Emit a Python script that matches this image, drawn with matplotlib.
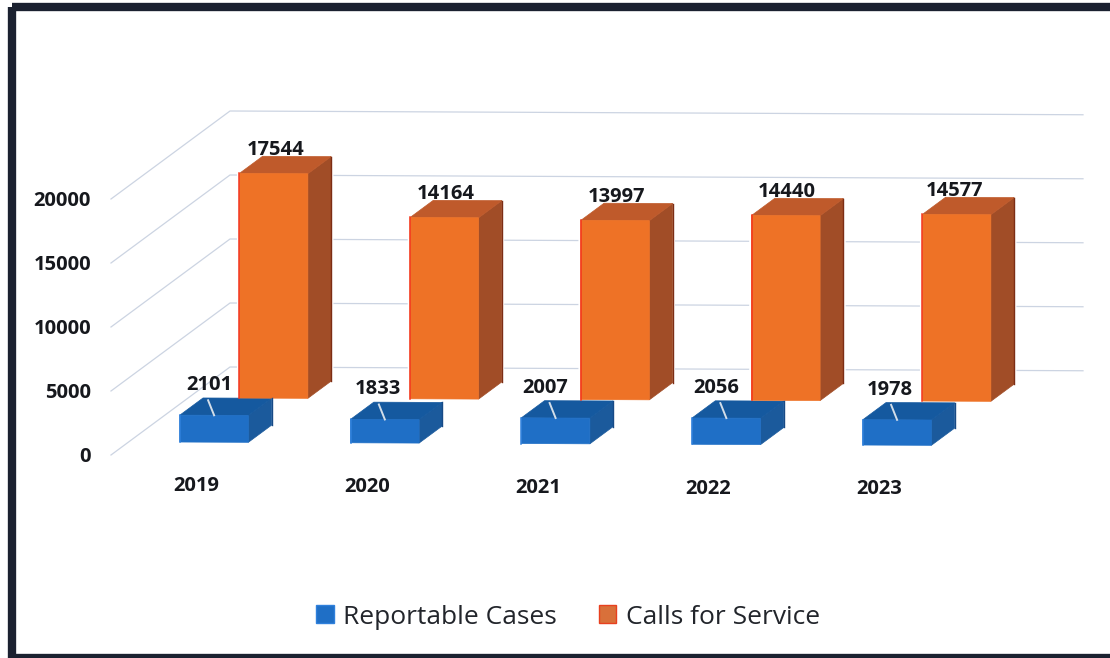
import matplotlib
matplotlib.use("Agg")
import matplotlib.pyplot as plt
from matplotlib.patches import Polygon, Rectangle, Patch

years = ["2019", "2020", "2021", "2022", "2023"]
reportable_cases = [2101, 1833, 2007, 2056, 1978]
calls_for_service = [17544, 14164, 13997, 14440, 14577]
y_ticks = [0, 5000, 10000, 15000, 20000]

# small hand nudges for the labels, the source chart placed them loosely
case_label_dx = [-5, -7, -10, -10, -7]
call_label_dx = [2, 1, 1, 1, -2]

BLUE = ("#1f6fc6", "#15599f", "#1b5a9c")
ORANGE = ("#ee7226", "#bf5a2b", "#a14d27")
GRID = "#ccd4e2"
TEXT = "#16181d"

# fake 3d floor, everything in pixels of the output image
X0, Y0 = 111, 455
BACK_DX, BACK_DY = 119, -88
PX_PER_UNIT = 64 / 5000
TILT = 0.0044
PITCH = 170.75
BAR_W = 68.5
BAR_OFFSET = 51
BAR_DEPTH = 0.195
CASE_DEPTH = 0.15
CALL_DEPTH = 0.65
WALL_W = 853


def project(s, depth, value):
    x = X0 + s + depth * BACK_DX
    y = Y0 + s * TILT + depth * BACK_DY - value * PX_PER_UNIT
    return x, y


def draw_bar(ax, i, value, depth, colors, left_edge, side_edge):
    s0 = BAR_OFFSET + i * PITCH
    s1 = s0 + BAR_W
    d0 = depth
    d1 = depth + BAR_DEPTH
    front = [project(s0, d0, 0), project(s1, d0, 0), project(s1, d0, value), project(s0, d0, value)]
    side = [project(s1, d0, 0), project(s1, d1, 0), project(s1, d1, value), project(s1, d0, value)]
    top = [project(s0, d0, value), project(s1, d0, value), project(s1, d1, value), project(s0, d1, value)]
    outline = [front[0], front[1], side[1], side[2], top[3], front[3]]
    # white halo so the gridlines stop short of the bar
    ax.add_patch(Polygon(outline, closed=True, fc="white", ec="white", lw=3.5, zorder=2))
    ax.add_patch(Polygon(side, closed=True, fc=colors[2], ec=colors[2], lw=0.5, zorder=3))
    ax.add_patch(Polygon(top, closed=True, fc=colors[1], ec=colors[1], lw=0.5, zorder=3))
    ax.add_patch(Polygon(front, closed=True, fc=colors[0], ec=colors[0], lw=0.5, zorder=4))
    # only the outer vertical edges are picked out
    ax.plot([front[0][0], front[3][0]], [front[0][1], front[3][1]], color=left_edge, lw=1.1, zorder=5)
    ax.plot([side[1][0], side[2][0]], [side[1][1], side[2][1]], color=side_edge, lw=1.0, zorder=5)


plt.rcParams["font.family"] = ["Open Sans", "DejaVu Sans"]
fig = plt.figure(figsize=(11.10, 6.58), dpi=100)
ax = fig.add_axes([0, 0, 1, 1])
ax.set_xlim(0, 1110)
ax.set_ylim(658, 0)
ax.axis("off")

# frame
ax.add_patch(Rectangle((11.5, 7), 1120, 651, fc="none", ec="#1b2130", lw=6, joinstyle="round", zorder=1))

# walls and gridlines
for tick in y_ticks:
    p0 = project(0, 0, tick)
    p1 = project(0, 1, tick)
    p2 = project(WALL_W, 1, tick)
    ax.plot([p0[0], p1[0], p2[0]], [p0[1], p1[1], p2[1]], color=GRID, lw=0.9, zorder=1)
    ax.text(91, p0[1] + 2, str(tick), ha="right", va="center", fontsize=14.5, fontweight="bold", color=TEXT)

for i in range(len(years)):
    draw_bar(ax, i, calls_for_service[i], CALL_DEPTH, ORANGE, "#f4341c", "#7c2d14")
for i in range(len(years)):
    draw_bar(ax, i, reportable_cases[i], CASE_DEPTH, BLUE, "#2f80dc", "#174a86")

for i in range(len(years)):
    s = BAR_OFFSET + i * PITCH
    mid = s + BAR_W / 2

    # blue bars: label, with its leader line down to the top face
    v = reportable_cases[i]
    lx, ly = project(mid, CASE_DEPTH, v)
    ax.plot([lx - 6, lx], [ly - 15, ly], color="#d3dee9", lw=1.4, zorder=5)
    ax.text(lx + case_label_dx[i], ly - 30, str(v), ha="center", va="center",
            fontsize=14.5, fontweight="bold", color=TEXT, zorder=6)

    # orange bars
    v = calls_for_service[i]
    lx, ly = project(mid, CALL_DEPTH, v)
    ax.text(lx + call_label_dx[i], ly - 23.5, str(v), ha="center", va="center",
            fontsize=14.5, fontweight="bold", color=TEXT, zorder=6)

    # category label
    lx, ly = project(mid, 0, 0)
    ax.text(lx, ly + 31, years[i], ha="center", va="center",
            fontsize=14.5, fontweight="bold", color=TEXT)

handles = [Patch(fc=BLUE[0], ec="#2f80dc", label="Reportable Cases"),
           Patch(fc="#d9703a", ec="#e8401f", label="Calls for Service")]
ax.legend(handles=handles, loc="center", bbox_to_anchor=(568, 617), bbox_transform=ax.transData,
          ncol=2, frameon=False, fontsize=19, handlelength=0.66, handleheight=0.66,
          handletextpad=0.35, columnspacing=1.6, labelcolor="#22252b")

fig.savefig("out.png", dpi=100)
